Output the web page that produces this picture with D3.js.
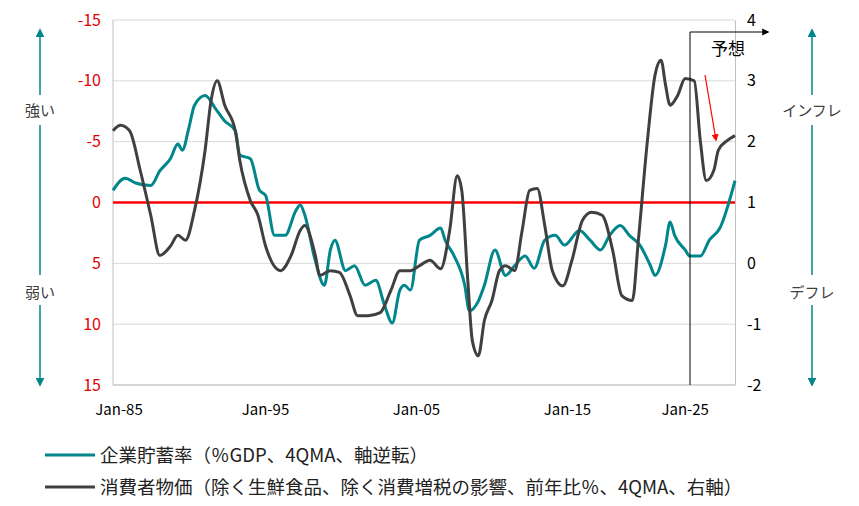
<!DOCTYPE html><html><head><meta charset="utf-8"><script src="https://cdn.jsdelivr.net/npm/d3@7"></script>
<style>body{margin:0;background:#fff}text{font-family:"Noto Sans CJK JP",sans-serif}</style></head><body><svg id="c" width="859" height="506"></svg>
<script>
const savYears=[1985.0,1985.8,1986.5,1987.5,1988.1,1988.8,1989.3,1989.6,1990.0,1990.4,1991.1,1991.8,1992.4,1993.1,1993.4,1994.1,1994.7,1995.1,1995.7,1996.4,1997.1,1997.4,1997.7,1998.4,1999.0,1999.4,1999.7,2000.4,2001.0,2001.7,2002.4,2003.0,2003.5,2004.0,2004.3,2004.7,2005.3,2006.0,2006.7,2007.0,2007.6,2008.3,2008.6,2009.2,2009.6,2010.3,2011.0,2011.6,2012.3,2012.9,2013.6,2014.3,2014.9,2015.9,2016.6,2017.3,2017.9,2018.6,2019.2,2019.9,2020.6,2020.9,2021.6,2021.9,2022.2,2022.9,2023.2,2023.9,2024.5,2025.2,2026.2];
const savValues=[-1,-2,-1.6,-1.4,-2.6,-3.6,-4.8,-4.3,-6,-8,-8.8,-7.7,-6.7,-5.9,-3.9,-3.6,-1,-0.6,2.7,2.7,0.7,0.2,1,4.8,6.8,3.9,3.1,5.6,5.2,6.8,6.4,8.5,9.9,7.2,6.8,7.2,3.1,2.7,2.1,3.1,4.4,6.8,8.9,8.1,6.8,3.9,6,5.2,4.4,5.4,3.1,2.7,3.5,2.3,3.1,3.9,2.7,1.9,2.7,3.5,5.2,6,3.5,1.6,2.7,3.9,4.4,4.4,3.1,2.1,-1.8];
const cpiYears=[1985.0,1985.5,1986.1,1986.8,1987.5,1988.1,1988.8,1989.3,1989.8,1990.4,1991.1,1991.5,1991.9,1992.4,1993.1,1993.4,1994.1,1994.6,1995.1,1996.1,1996.8,1997.4,1997.7,1998.4,1998.7,1999.4,2000.0,2000.7,2001.2,2001.9,2002.7,2003.4,2004.0,2004.7,2005.3,2006.0,2006.7,2007.3,2007.8,2008.1,2008.5,2008.8,2009.2,2009.6,2010.1,2010.6,2011.0,2011.6,2012.1,2012.6,2013.1,2013.6,2014.1,2014.8,2015.4,2016.1,2016.7,2017.4,2018.1,2018.7,2019.4,2019.8,2020.4,2020.9,2021.3,2021.6,2021.9,2022.4,2022.9,2023.5,2023.9,2024.3,2024.8,2025.1,2025.7,2026.2];
const cpiValues=[2.18,2.27,2.18,1.53,0.79,0.13,0.28,0.46,0.38,0.87,1.86,2.68,3.0,2.6,2.18,1.69,1.03,0.79,0.29,-0.12,0.13,0.54,0.62,0.13,-0.2,-0.12,-0.15,-0.53,-0.86,-0.86,-0.81,-0.45,-0.12,-0.12,-0.04,0.05,-0.09,0.54,1.44,1.2,-0.28,-1.27,-1.52,-0.94,-0.61,-0.12,-0.04,-0.12,0.54,1.2,1.23,0.62,-0.12,-0.37,0.05,0.71,0.84,0.79,0.21,-0.53,-0.61,0.38,2.02,3.09,3.34,2.93,2.6,2.76,3.04,3.0,2.02,1.36,1.53,1.86,2.02,2.1];
const leftTicks=[-15,-10,-5,0,5,10,15];
const rightTicks=[4,3,2,1,0,-1,-2];
const xTickYears=[1985.4,1995.1,2005.1,2015.1,2022.9];
const xTickLabels=["Jan-85","Jan-95","Jan-05","Jan-15","Jan-25"];
const svg=d3.select("#c");
const x=d3.scaleLinear().domain([1985,2026.2]).range([113,735]);
const yL=d3.scaleLinear().domain([-15,15]).range([20,385]);
const yR=d3.scaleLinear().domain([4,-2]).range([20,385]);
const teal="#00868B",dark="#404040";
const fmt=d=>String(d);
leftTicks.forEach(t=>{if(t!==0)svg.append("line").attr("x1",113).attr("x2",735).attr("y1",yL(t)).attr("y2",yL(t)).attr("stroke","#d9d9d9");});
svg.append("g").attr("transform","translate(113,0)").call(d3.axisLeft(yL).tickValues(leftTicks).tickSize(0).tickPadding(12).tickFormat(fmt)).call(g=>{g.select(".domain").remove();g.selectAll("text").attr("fill","#e00000").style("font-size","16px").style("font-family","Noto Sans CJK JP");});
svg.append("g").attr("transform","translate(735,0)").call(d3.axisRight(yR).tickValues(rightTicks).tickSize(0).tickPadding(12).tickFormat(fmt)).call(g=>{g.select(".domain").attr("stroke","#bfbfbf");g.selectAll("text").attr("fill","#000").style("font-size","16px").style("font-family","Noto Sans CJK JP");});
svg.append("line").attr("x1",113).attr("x2",113).attr("y1",20).attr("y2",385).attr("stroke","#bfbfbf");
svg.append("line").attr("x1",113).attr("x2",735).attr("y1",385).attr("y2",385).attr("stroke","#bfbfbf");
xTickYears.forEach((t,i)=>svg.append("text").attr("x",x(t)).attr("y",415).attr("text-anchor","middle").style("font-size","15px").text(xTickLabels[i]));
svg.append("line").attr("x1",113).attr("x2",735).attr("y1",yL(0)).attr("y2",yL(0)).attr("stroke","#ff0000").attr("stroke-width",2.5);
const ls=d3.line().x(d=>x(d[0])).y(d=>yL(d[1])).curve(d3.curveMonotoneX);
const lc=d3.line().x(d=>x(d[0])).y(d=>yR(d[1])).curve(d3.curveMonotoneX);
svg.append("path").attr("d",ls(d3.zip(savYears,savValues))).attr("fill","none").attr("stroke",teal).attr("stroke-width",3);
svg.append("path").attr("d",lc(d3.zip(cpiYears,cpiValues))).attr("fill","none").attr("stroke",dark).attr("stroke-width",3);
const defs=svg.append("defs");
function mk(id,c){defs.append("marker").attr("id",id).attr("viewBox","0 0 10 10").attr("refX",8).attr("refY",5).attr("markerWidth",6).attr("markerHeight",6).attr("orient","auto-start-reverse").append("path").attr("d","M0,0L10,5L0,10z").attr("fill",c);}
mk("mt",teal);mk("mk","#000");mk("mr","#ff0000");
[[40,"強い","弱い"],[812,"インフレ","デフレ"]].forEach(([cx,a,b])=>{
 svg.append("line").attr("x1",cx).attr("x2",cx).attr("y1",95).attr("y2",30).attr("stroke",teal).attr("stroke-width",1.5).attr("marker-end","url(#mt)");
 svg.append("line").attr("x1",cx).attr("x2",cx).attr("y1",125).attr("y2",275).attr("stroke",teal).attr("stroke-width",1.5);
 svg.append("line").attr("x1",cx).attr("x2",cx).attr("y1",305).attr("y2",385).attr("stroke",teal).attr("stroke-width",1.5).attr("marker-end","url(#mt)");
 svg.append("rect").attr("x",cx-40).attr("y",96).attr("width",80).attr("height",26).attr("fill","#fff");
 svg.append("rect").attr("x",cx-40).attr("y",278).attr("width",80).attr("height",26).attr("fill","#fff");
 svg.append("text").attr("x",cx).attr("y",116).attr("text-anchor","middle").style("font-size","15px").attr("fill","#404040").text(a);
 svg.append("text").attr("x",cx).attr("y",298).attr("text-anchor","middle").style("font-size","15px").attr("fill","#404040").text(b);
});
svg.append("line").attr("x1",690).attr("x2",690).attr("y1",32).attr("y2",385).attr("stroke","#000");
svg.append("line").attr("x1",690).attr("x2",768).attr("y1",32).attr("y2",32).attr("stroke","#000").attr("stroke-width",1.2).attr("marker-end","url(#mk)");
svg.append("text").attr("x",728).attr("y",55).attr("text-anchor","middle").style("font-size","17px").text("予想");
svg.append("line").attr("x1",705).attr("x2",716).attr("y1",75).attr("y2",140).attr("stroke","#ff0000").attr("stroke-width",1.2).attr("marker-end","url(#mr)");
[[teal,455,"企業貯蓄率（％GDP、4QMA、軸逆転）"],[dark,487,"消費者物価（除く生鮮食品、除く消費増税の影響、前年比％、4QMA、右軸）"]].forEach(([c,y,t])=>{
 svg.append("line").attr("x1",45).attr("x2",95).attr("y1",y).attr("y2",y).attr("stroke",c).attr("stroke-width",3);
 svg.append("text").attr("x",100).attr("y",y+7).style("font-size","18.5px").attr("fill","#222").text(t);
});
</script></body></html>
